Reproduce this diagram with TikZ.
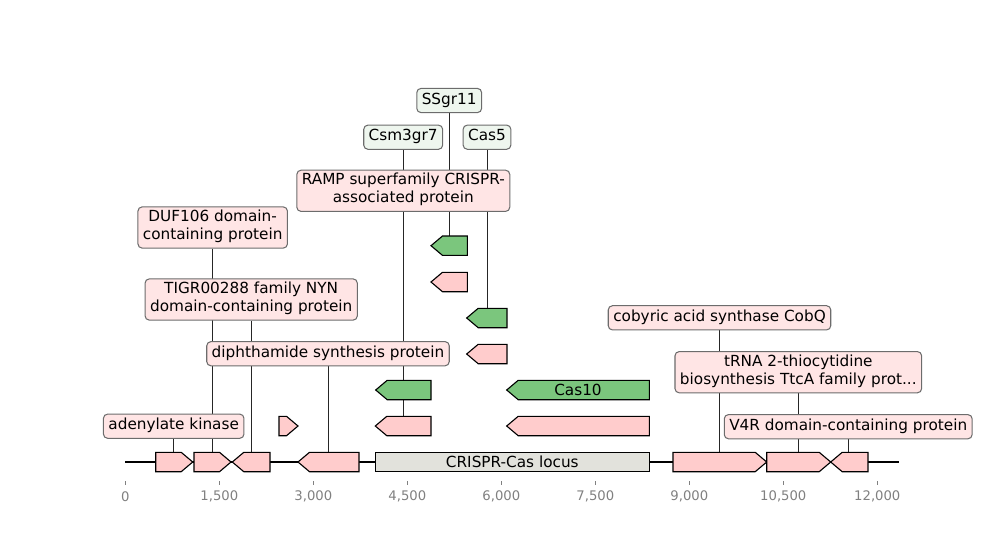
\documentclass[tikz,border=0pt]{standalone}
\usepackage{fontspec}
\setmainfont{DejaVu Sans}
\usetikzlibrary{backgrounds}

\definecolor{featpink}{HTML}{FFCCCC}
\definecolor{featgreen}{HTML}{7BC67D}
\definecolor{lblpink}{HTML}{FFE5E5}
\definecolor{lblgreen}{HTML}{EEF6EE}
\definecolor{locusgray}{HTML}{E2E2DC}

\tikzset{
    gene/.style={draw=black, line width=0.8pt, line join=miter},
    lbl/.style={draw=gray!85!black, line width=0.75pt, rounded corners=3pt, fill=lblpink,
        align=center, inner xsep=3.6pt, inner ysep=2.2pt,
        font=\fontsize{11}{13}\selectfont,
        execute at begin node=\strut, execute at end node=\strut},
    glbl/.style={lbl, fill=lblgreen},
    link/.style={line width=0.5pt, black!85}
}

\begin{document}
\begin{tikzpicture}[x=0.72pt, y=-0.72pt]
    \useasboundingbox (0,0) rectangle (1000,540);

    % Main sequence line
    \coordinate (seqstart) at (125,462);
    \coordinate (seqend) at (899,462);
    \draw [line width=1.4pt] (seqstart) -- (seqend);

    % Ruler
    \foreach \i/\t in {0/0, 1/{1,500}, 2/{3,000}, 3/{4,500}, 4/{6,000}, 5/{7,500}, 6/{9,000}, 7/{10,500}, 8/{12,000}}
    {
        \draw [gray, line width=0.6pt] (125.3+94*\i,481) -- (125.3+94*\i,485);
        \node (t\i) [text=gray, font=\fontsize{9.5}{11}\selectfont] at (125.3+94*\i,496.3) {\t};
    }

    % CRISPR-Cas locus
    \filldraw [gene, fill=locusgray] (375.3,452.3) rectangle (649.3,471.7);
    \node (locus) at (512.3,462) [font=\fontsize{11}{13}\selectfont] {CRISPR-Cas locus};

    % Forward genes
    \foreach \n/\a/\b/\y/\c in {g1/155.7/192.7/462/featpink, g2/194/231/462/featpink,
        g5/673/766.7/462/featpink, g6/766.7/830.7/462/featpink, s1/279/298/426/featpink}
    {
        \filldraw [gene, fill=\c] (\a,\y-9.7) -- (\b-11.5,\y-9.7) -- (\b,\y)
            -- (\b-11.5,\y+9.7) -- (\a,\y+9.7) -- cycle;
        \coordinate (\n) at ({(\a+\b)/2},\y-9.7);
    }

    % Reverse genes
    \foreach \n/\a/\b/\y/\c in {g3/232.3/270/462/featpink, g4/298/359/462/featpink,
        g7/830.7/868/462/featpink, r1/375.3/431/426/featpink, r2/506.7/649.3/426/featpink,
        r3/375.7/431/390/featgreen, cas10/506.7/649.3/390/featgreen,
        r4/466.7/507/354/featpink, r5/466.7/507/318/featgreen,
        r6/431/467.3/282/featpink, r7/431/467.3/245.7/featgreen}
    {
        \filldraw [gene, fill=\c] (\b,\y-9.7) -- (\a+11.5,\y-9.7) -- (\a,\y)
            -- (\a+11.5,\y+9.7) -- (\b,\y+9.7) -- cycle;
        \coordinate (\n) at ({(\a+\b)/2},\y-9.7);
    }
    \node (cas10lbl) at (578,390) [font=\fontsize{11}{13}\selectfont] {Cas10};

    % Annotations
    \node (adk) [lbl] at (173.7,426.2) {adenylate kinase};
    \node (duf) [lbl] at (212.7,227.5) {DUF106 domain-\\containing protein};
    \node (tigr) [lbl] at (251.2,299.5) {TIGR00288 family NYN\\domain-containing protein};
    \node (dph) [lbl] at (328,353.7) {diphthamide synthesis protein};
    \node (ramp) [lbl] at (403.3,190.8) {RAMP superfamily CRISPR-\\associated protein};
    \node (csm) [glbl] at (403.2,137.2) {Csm3gr7};
    \node (ssg) [glbl] at (449.2,100.5) {SSgr11};
    \node (cas5) [glbl] at (487,137.2) {Cas5};
    \node (cobq) [lbl] at (719.5,317.8) {cobyric acid synthase CobQ};
    \node (trna) [lbl] at (798.3,372.2) {tRNA 2-thiocytidine\\biosynthesis TtcA family prot...};
    \node (v4r) [lbl] at (848.2,426.7) {V4R domain-containing protein};

    % Links from annotations down to genes
    \begin{scope}[on background layer]
        \draw [link] (adk.south) -- (adk.south |- g1);
        \draw [link] (duf.south) -- (duf.south |- g2);
        \draw [link] (tigr.south) -- (tigr.south |- g3);
        \draw [link] (dph.south) -- (dph.south |- g4);
        \draw [link] (ramp.south) -- (ramp.south |- r1);
        \draw [link] (csm.south) -- (csm.south |- r3);
        \draw [link] (ssg.south) -- (ssg.south |- r7);
        \draw [link] (cas5.south) -- (cas5.south |- r5);
        \draw [link] (cobq.south) -- (cobq.south |- g5);
        \draw [link] (trna.south) -- (trna.south |- g6);
        \draw [link] (v4r.south) -- (v4r.south |- g7);
    \end{scope}
\end{tikzpicture}
\end{document}
